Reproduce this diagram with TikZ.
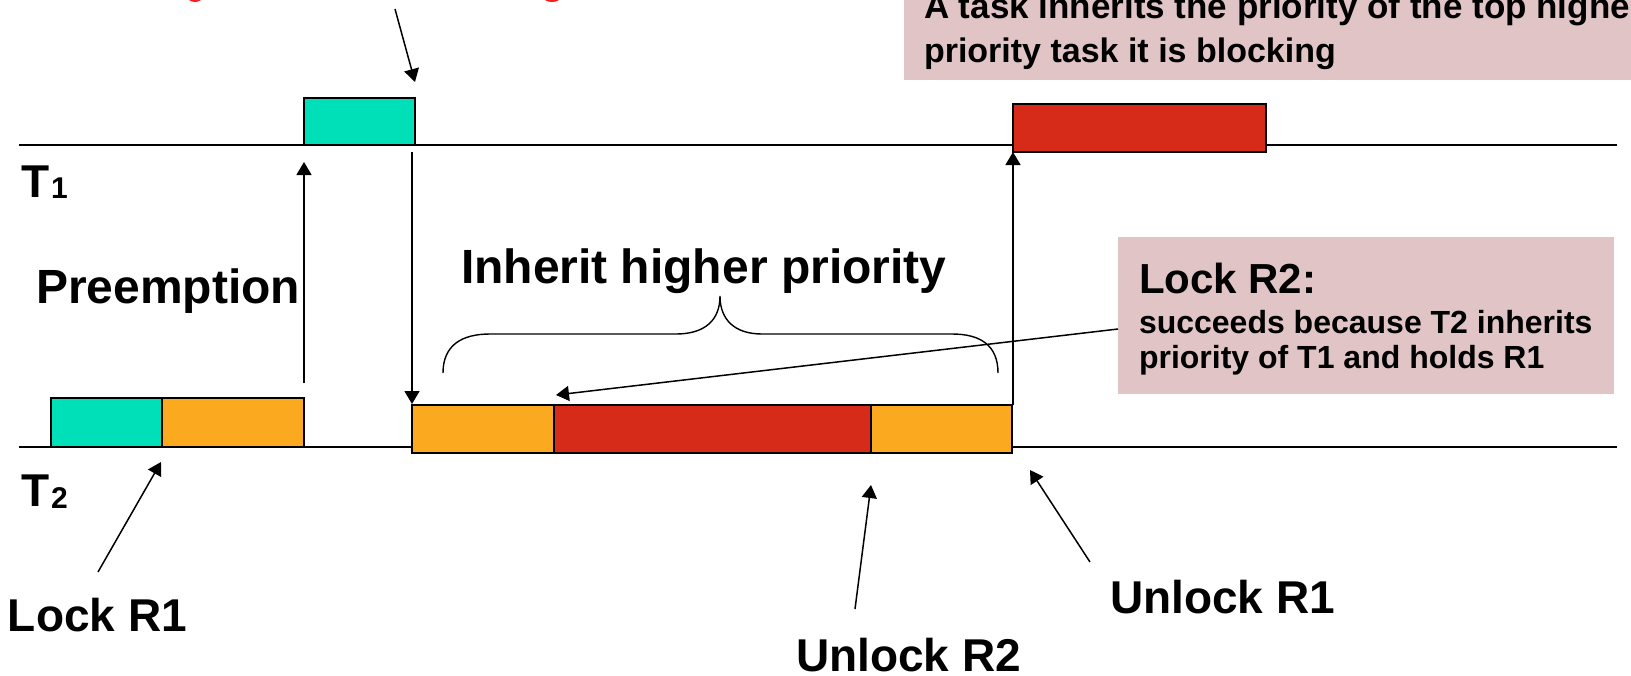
\documentclass[tikz,border=0pt]{standalone}
\usepackage{fontspec}
\setmainfont{Liberation Sans}
\usetikzlibrary{arrows.meta}
\definecolor{segteal}{RGB}{0,224,184}
\definecolor{segorange}{RGB}{251,170,32}
\definecolor{segred}{RGB}{213,43,24}
\definecolor{notepink}{RGB}{225,196,198}
\definecolor{titlered}{RGB}{250,30,30}
\begin{document}
\begin{tikzpicture}[x=1pt,y=-1pt,
  every node/.style={inner sep=0pt, outer sep=0pt},
  seg/.style={draw=black, line width=1.6pt, anchor=north west},
  tl/.style={line width=1.4pt},
  arr/.style={line width=1.5pt, -{Triangle[length=13pt,width=15pt]}},
  big/.style={font=\bfseries\fontsize{46}{55}\selectfont, anchor=base west},
  bigger/.style={font=\bfseries\fontsize{48}{57}\selectfont, anchor=base west},
  sub/.style={font=\bfseries\fontsize{30}{36}\selectfont, anchor=base west},
  note/.style={fill=notepink, anchor=north west},
  notetxt/.style={font=\bfseries\fontsize{34}{40}\selectfont, anchor=base west},
  lockhead/.style={font=\bfseries\fontsize{42}{50}\selectfont, anchor=base west},
  locktxt/.style={font=\bfseries\fontsize{32}{38}\selectfont, anchor=base west}
]
\useasboundingbox (0,0) rectangle (1631,675);
\fill[white] (0,0) rectangle (1631,675);

% cut-off red title fragments
\fill[titlered] (195,-4) ellipse [x radius=8, y radius=6];
\fill[titlered] (552,-4) ellipse [x radius=9.5, y radius=6];

% top note
\node[note, minimum width=740pt, minimum height=80pt] (topnote) at (904,0) {};
\node[notetxt, font=\bfseries\fontsize{35}{40}\selectfont] (topl1) at (924,18) {A task inherits the priority of the top higher};
\node[notetxt] (topl2) at (924,62) {priority task it is blocking};

% lock R2 note
\node[note, minimum width=496pt, minimum height=157pt] (locknote) at (1118,237) {};
\node[lockhead] (lockh) at (1139,293) {Lock R2:};
\node[locktxt] (lockl1) at (1139,333) {succeeds because T2 inherits};
\node[locktxt] (lockl2) at (1139,368) {priority of T1 and holds R1};

% time lines
\coordinate (t1s) at (19,145);
\coordinate (t1e) at (1617,145);
\coordinate (t2s) at (19,447);
\coordinate (t2e) at (1617,447);
\draw[tl] (t1s) -- (t1e);
\draw[tl] (t2s) -- (t2e);

% T1 segments
\node[seg, fill=segteal, minimum width=111pt, minimum height=47pt] (t1a) at (304,98) {};
\node[seg, fill=segred, minimum width=253pt, minimum height=48pt] (t1b) at (1013,104) {};

% T2 segments
\node[seg, fill=segteal, minimum width=111pt, minimum height=49pt] (t2a) at (51,398) {};
\node[seg, fill=segorange, minimum width=142pt, minimum height=49pt] (t2b) at (162,398) {};
\node[seg, fill=segorange, minimum width=142pt, minimum height=48pt] (t2c) at (412,405) {};
\node[seg, fill=segred, minimum width=317pt, minimum height=48pt] (t2d) at (554,405) {};
\node[seg, fill=segorange, minimum width=141pt, minimum height=48pt] (t2f) at (871,405) {};

% labels
\node[big] (T1) at (21,197) {T};
\node[sub] (T1s) at (51,198) {1};
\node[big] (T2) at (21,506) {T};
\node[sub] (T2s) at (51,508) {2};
\node[bigger] (preempt) at (36,303) {Preemption};
\node[bigger] (inherit) at (461,283) {Inherit higher priority};
\node[big] (lockr1) at (8,631) {Lock R1};
\node[big] (unlockr2) at (796,671) {Unlock R2};
\node[big] (unlockr1) at (1110,613) {Unlock R1};

% arrows
\coordinate (topA) at (395,9);
\coordinate (topB) at (415,82);
\draw[arr] (topA) -- (topB);

\coordinate (preA) at (304,383);
\coordinate (preB) at (304,162);
\draw[arr] (preA) -- (preB);

\coordinate (dnA) at (412,152);
\coordinate (dnB) at (412,404);
\draw[arr] (dnA) -- (dnB);

\coordinate (upA) at (1013,405);
\coordinate (upB) at (1013,152);
\draw[arr] (upA) -- (upB);

\coordinate (lr1A) at (98,572);
\coordinate (lr1B) at (161,462);
\draw[arr] (lr1A) -- (lr1B);

\coordinate (ur2A) at (855,609);
\coordinate (ur2B) at (871,485);
\draw[arr] (ur2A) -- (ur2B);

\coordinate (ur1A) at (1090,562);
\coordinate (ur1B) at (1030,470);
\draw[arr] (ur1A) -- (ur1B);

\coordinate (lr2A) at (1118,329);
\coordinate (lr2B) at (556,395);
\draw[arr] (lr2A) -- (lr2B);

% brace
\draw[line width=1.4pt] (443,373) .. controls (443,345) and (462,334) .. (490,334)
  -- (676,334) .. controls (705,334) and (720,320) .. (720,296)
  .. controls (720,320) and (735,334) .. (762,334)
  -- (952,334) .. controls (980,334) and (998,345) .. (998,373);
\end{tikzpicture}
\end{document}
